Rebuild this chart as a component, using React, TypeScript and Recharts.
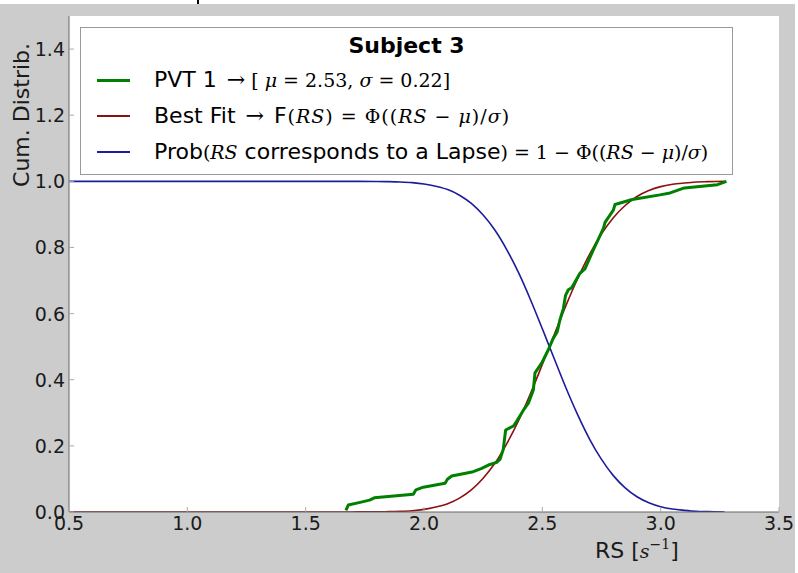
import { Label, Legend, Line, LineChart, XAxis, YAxis } from 'recharts'

// x grid of the fitted curves (RS, 1/s)
const fitX = [0.5, 1.0, 1.5, 1.7, 1.8, 1.85, 1.9, 1.95, 2.0, 2.05, 2.1, 2.15, 2.2, 2.25, 2.3, 2.35, 2.4, 2.45, 2.5, 2.55, 2.6, 2.65, 2.7, 2.75, 2.8, 2.85, 2.9, 2.95, 3.0, 3.05, 3.1, 3.15, 3.2, 3.27]
// best fit F(RS), red
const fitCdf = [0, 0, 0, 0.0002, 0.0005, 0.001, 0.002, 0.004, 0.008, 0.015, 0.025, 0.042, 0.067, 0.102, 0.148, 0.207, 0.277, 0.358, 0.446, 0.536, 0.625, 0.707, 0.78, 0.841, 0.89, 0.927, 0.954, 0.972, 0.984, 0.991, 0.995, 0.998, 0.999, 1.0]
// lapse probability, blue
const lapseProb = [1, 1, 1, 0.9998, 0.9995, 0.999, 0.998, 0.996, 0.992, 0.985, 0.975, 0.958, 0.933, 0.898, 0.852, 0.793, 0.723, 0.642, 0.554, 0.464, 0.375, 0.293, 0.22, 0.159, 0.11, 0.073, 0.046, 0.028, 0.016, 0.009, 0.005, 0.002, 0.001, 0]

// empirical cdf of PVT 1, green
const pvtX = [1.67, 1.68, 1.73, 1.77, 1.79, 1.955, 1.966, 1.997, 2.089, 2.099, 2.117, 2.208, 2.244, 2.272, 2.307, 2.321, 2.335, 2.345, 2.378, 2.392, 2.42, 2.441, 2.462, 2.469, 2.497, 2.525, 2.546, 2.563, 2.574, 2.589, 2.598, 2.61, 2.624, 2.659, 2.68, 2.715, 2.758, 2.765, 2.8, 2.807, 2.88, 2.997, 3.04, 3.1, 3.24, 3.278]
const pvtCdf = [0.005, 0.021, 0.029, 0.036, 0.043, 0.054, 0.067, 0.075, 0.087, 0.099, 0.109, 0.122, 0.132, 0.142, 0.15, 0.159, 0.19, 0.248, 0.26, 0.275, 0.308, 0.329, 0.369, 0.421, 0.45, 0.49, 0.525, 0.545, 0.58, 0.616, 0.655, 0.672, 0.678, 0.722, 0.735, 0.792, 0.858, 0.876, 0.913, 0.93, 0.945, 0.959, 0.965, 0.98, 0.99, 1.0]

const xTicks = [0.5, 1.0, 1.5, 2.0, 2.5, 3.0, 3.5]
const yTicks = [0, 0.2, 0.4, 0.6, 0.8, 1.0, 1.2, 1.4]

const fitData = fitX.map((x, i) => ({ x, y: fitCdf[i] }))
const lapseData = fitX.map((x, i) => ({ x, y: lapseProb[i] }))
const pvtData = pvtX.map((x, i) => ({ x, y: pvtCdf[i] }))

const SANS = 'DejaVu Sans'
const MATH = 'DejaVu Serif'
const GREEN = '#008000'
const RED = '#8b1010'
const BLUE = '#1c1c9c'
const TICK = '#aaaaaa'

function BottomTick(props: any) {
  const { x, y, payload } = props
  return (
    <g>
      <line x1={x} x2={x} y1={y} y2={y - 5} stroke={TICK} />
      <text x={x} y={y + 18} textAnchor="middle" fontSize={19} fontFamily={SANS} fill="#1a1a1a">
        {Number(payload.value).toFixed(1)}
      </text>
    </g>
  )
}

function TopTick(props: any) {
  const { x, y } = props
  return <line x1={x} x2={x} y1={y} y2={y + 5} stroke={TICK} />
}

function LeftTick(props: any) {
  const { x, y, payload } = props
  return (
    <g>
      <line x1={x} x2={x + 5} y1={y} y2={y} stroke={TICK} />
      <text x={x - 4} y={y + 7} textAnchor="end" fontSize={19} fontFamily={SANS} fill="#1a1a1a">
        {Number(payload.value).toFixed(1)}
      </text>
    </g>
  )
}

function RightTick(props: any) {
  const { x, y } = props
  return <line x1={x} x2={x - 5} y1={y} y2={y} stroke={TICK} />
}

const it = { fontFamily: MATH, fontStyle: 'italic' as const, fontSize: 19 }
const rm = { fontFamily: MATH, fontSize: 19 }
const arrow = { fontFamily: MATH, fontSize: 22, marginLeft: 3 }

function LegendRow({ top, color, width, children }: { top: number; color: string; width: number; children: any }) {
  return (
    <div style={{ position: 'absolute', left: 0, top, height: 26, lineHeight: '26px', whiteSpace: 'nowrap' }}>
      <div style={{ position: 'absolute', left: 16, top: 13 - width / 2, width: 33, height: width, background: color }} />
      <div style={{ position: 'absolute', left: 73, top: 0 }}>{children}</div>
    </div>
  )
}

function LegendBox() {
  return (
    <div
      style={{
        position: 'relative', width: 653, height: 148, boxSizing: 'border-box', border: '1px solid #999',
        background: '#fff', fontFamily: SANS, fontSize: 22, color: '#000',
      }}
    >
      <div style={{ position: 'absolute', top: 5, left: 0, right: 0, textAlign: 'center', fontWeight: 'bold', lineHeight: '26px' }}>
        Subject 3
      </div>
      <LegendRow top={39} color={GREEN} width={3}>
        PVT 1 <span style={{ ...arrow, marginRight: 6 }}>→</span><span style={rm}>[ </span><span style={it}>μ</span>
        <span style={rm}> = 2.53, </span><span style={it}>σ</span><span style={rm}> = 0.22]</span>
      </LegendRow>
      <LegendRow top={75} color={RED} width={1.5}>
        Best Fit <span style={{ ...arrow, marginRight: 10 }}>→</span>
        <span style={{ letterSpacing: 1 }}>
          F<span style={rm}>(</span><span style={it}>RS</span>
          <span style={rm}>) = Φ((</span><span style={it}>RS</span><span style={rm}> − </span><span style={it}>μ</span>
          <span style={rm}>)/</span><span style={it}>σ</span><span style={rm}>)</span>
        </span>
      </LegendRow>
      <LegendRow top={111} color={BLUE} width={1.5}>
        Prob<span style={rm}>(</span><span style={it}>RS</span> corresponds to a Lapse<span style={rm}>) = 1 − Φ((</span>
        <span style={it}>RS</span><span style={rm}> − </span><span style={it}>μ</span><span style={rm}>)/</span>
        <span style={it}>σ</span><span style={rm}>)</span>
      </LegendRow>
    </div>
  )
}

export default function App() {
  return (
    <div style={{ position: 'absolute', left: 0, top: 0, width: 798, height: 573, background: '#cccccc', overflow: 'hidden' }}>
      <div style={{ position: 'absolute', left: 0, top: 0, width: 798, height: 4, background: '#fff' }} />
      <div style={{ position: 'absolute', left: 197, top: 0, width: 2, height: 4, background: '#000' }} />
      <div style={{ position: 'absolute', left: 795, top: 0, width: 3, height: 573, background: '#fff' }} />
      <div style={{ position: 'absolute', left: 69, top: 16, width: 710, height: 496, background: '#fff' }} />
      <div style={{ position: 'absolute', left: 0, top: 0 }}>
        <LineChart width={798} height={573} margin={{ top: 16, right: 19, bottom: 0, left: 0 }}>
          <XAxis
            xAxisId="b"
            type="number"
            dataKey="x"
            domain={[0.5, 3.5]}
            ticks={xTicks}
            interval={0}
            height={61}
            tickSize={0}
            tickMargin={0}
            tickLine={false}
            tick={<BottomTick />}
            axisLine={{ stroke: '#666' }}
            allowDataOverflow
          >
            <Label
              content={() => (
                <text x={595} y={558} fontSize={22} fontFamily={SANS} fill="#1a1a1a">
                  RS [<tspan fontFamily={MATH} fontStyle="italic" fontSize={19}>s</tspan>
                  <tspan fontFamily={MATH} fontSize={14} dy={-9}>−1</tspan>
                  <tspan dy={9}>]</tspan>
                </text>
              )}
            />
          </XAxis>
          <XAxis
            xAxisId="t"
            orientation="top"
            type="number"
            dataKey="x"
            domain={[0.5, 3.5]}
            ticks={xTicks}
            interval={0}
            height={0}
            tickSize={0}
            tickMargin={0}
            tickLine={false}
            tick={<TopTick />}
            axisLine={{ stroke: '#666' }}
            allowDataOverflow
          />
          <YAxis
            yAxisId="l"
            type="number"
            domain={[0, 1.5]}
            ticks={yTicks}
            interval={0}
            width={69}
            tickSize={0}
            tickMargin={0}
            tickLine={false}
            tick={<LeftTick />}
            axisLine={{ stroke: '#666' }}
            allowDataOverflow
          >
            <Label
              content={() => (
                <text transform="translate(29,115) rotate(-90)" textAnchor="middle" fontSize={22} fontFamily={SANS} fill="#1a1a1a">
                  Cum. Distrib.
                </text>
              )}
            />
          </YAxis>
          <YAxis
            yAxisId="r"
            orientation="right"
            type="number"
            domain={[0, 1.5]}
            ticks={yTicks}
            interval={0}
            width={0}
            tickSize={0}
            tickMargin={0}
            tickLine={false}
            tick={<RightTick />}
            axisLine={{ stroke: '#666' }}
            allowDataOverflow
          />
          <Line xAxisId="b" yAxisId="l" data={lapseData} dataKey="y" type="monotone" stroke={BLUE} strokeWidth={1.6} dot={false} activeDot={false} isAnimationActive={false} />
          <Line xAxisId="b" yAxisId="l" data={fitData} dataKey="y" type="monotone" stroke={RED} strokeWidth={1.6} dot={false} activeDot={false} isAnimationActive={false} />
          <Line xAxisId="b" yAxisId="l" data={pvtData} dataKey="y" type="linear" stroke={GREEN} strokeWidth={3} strokeLinejoin="round" dot={false} activeDot={false} isAnimationActive={false} />
          {/* invisible series so the top / right axes get drawn */}
          <Line xAxisId="t" yAxisId="r" data={fitData} dataKey="y" stroke="transparent" dot={false} activeDot={false} legendType="none" isAnimationActive={false} />
          <Legend
            layout="vertical"
            align="center"
            verticalAlign="middle"
            content={<LegendBox />}
            wrapperStyle={{ position: 'absolute', left: 80, top: 27, width: 653, height: 148 }}
          />
        </LineChart>
      </div>
    </div>
  )
}
